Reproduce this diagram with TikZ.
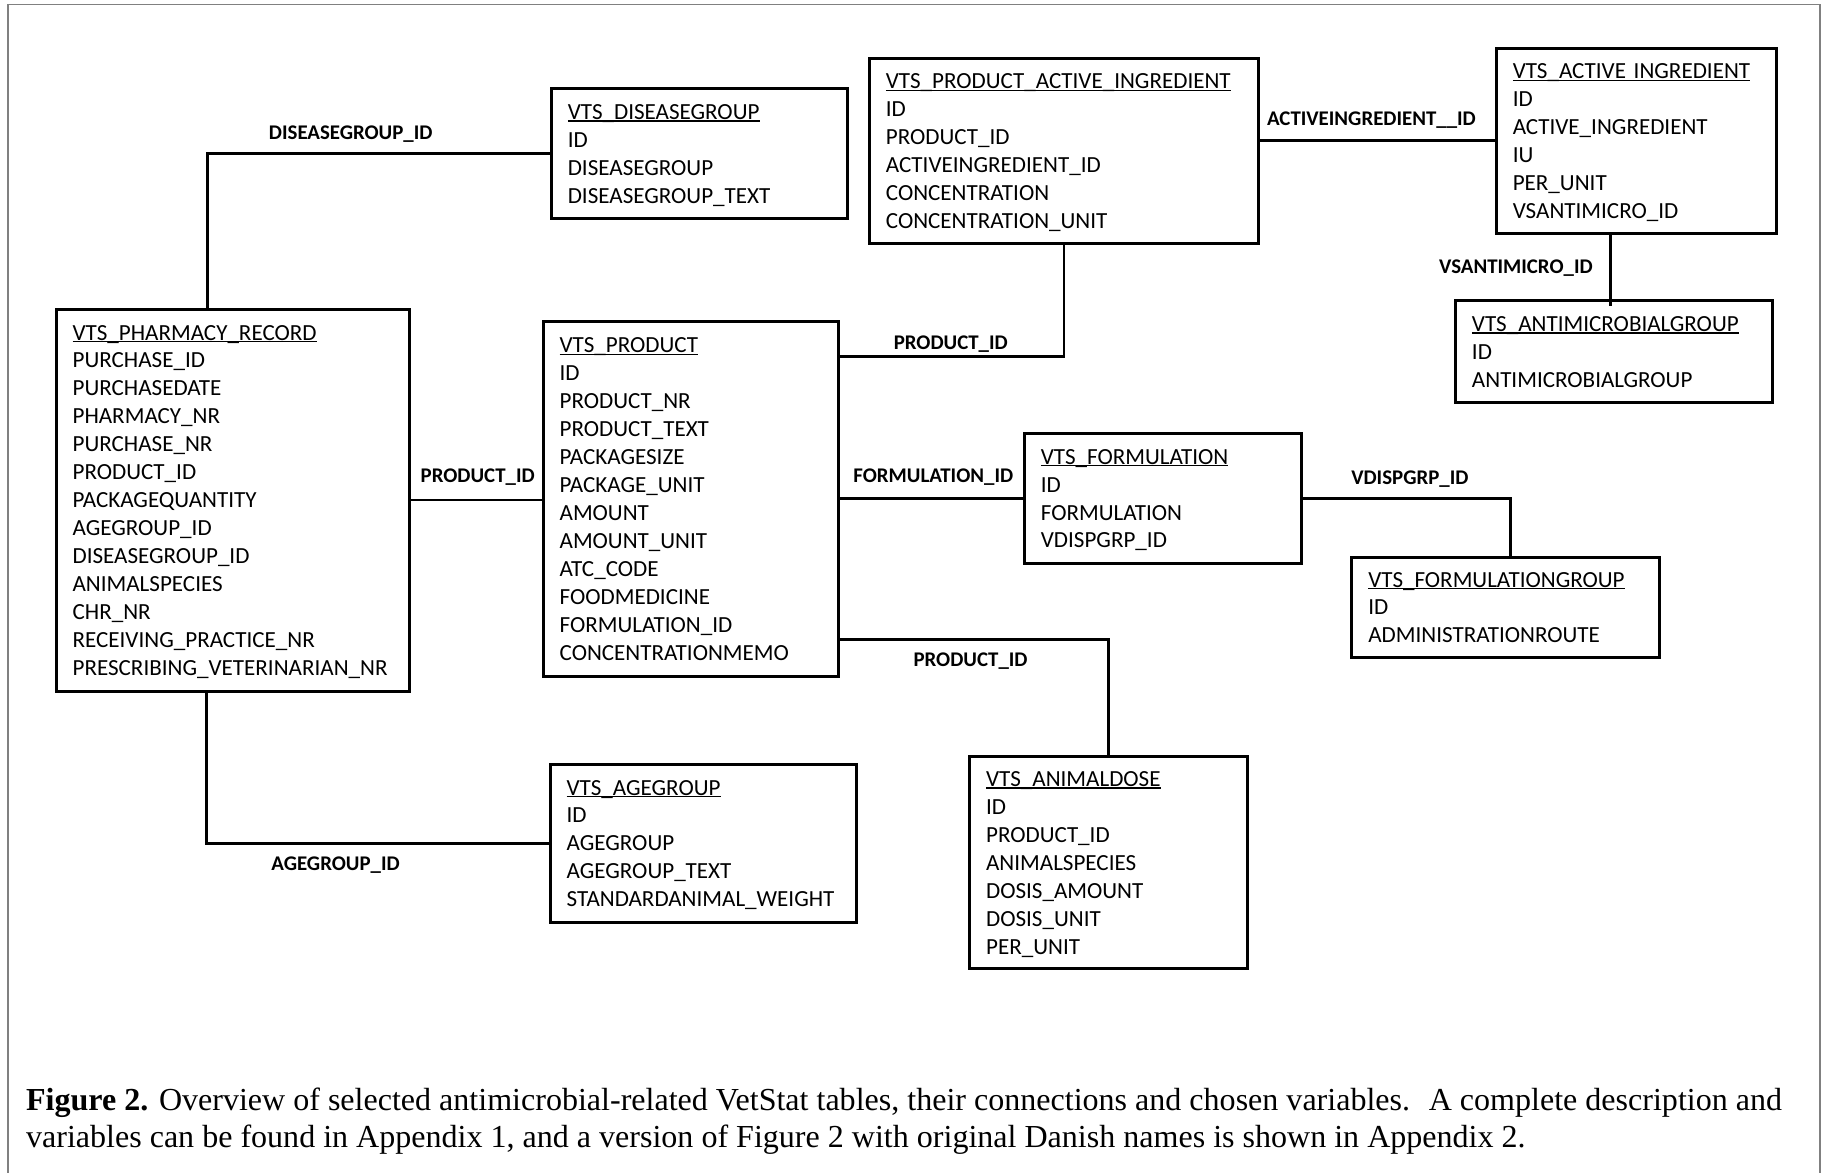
\documentclass[tikz,border=0pt]{standalone}
\usepackage{fontspec}
\setmainfont{Liberation Serif}
\newfontfamily\calfont{Carlito}
\newcommand\ttl[1]{\setbox0\hbox{#1}\rlap{\rule[-1pt]{\wd0}{0.5pt}}\box0}
\newcommand\tbltext[2]{\rule{0pt}{8pt}\ttl{#1}\\#2\rule[-1.5pt]{0pt}{0pt}}
\tikzset{
  tbl/.style={draw, line width=1.3pt, anchor=north west, align=left,
    inner xsep=7pt, inner ysep=0pt,
    font=\calfont\fontsize{9.9}{12}\selectfont},
  conn/.style={line width=1.1pt},
  lbl/.style={anchor=base, inner sep=0pt,
    font=\calfont\bfseries\fontsize{8.95}{10}\selectfont},
}
\begin{document}
\begin{tikzpicture}[x=0.5pt,y=-0.5pt]
\useasboundingbox (0,0) rectangle (1568,1006);
% outer frame
\draw[gray, line width=0.7pt] (7,1020) -- (7,4) -- (1562,4) -- (1562,1020);

% tables
\node[tbl, text width=113pt, minimum height=55.5pt] (dg) at (472,75)
  {\tbltext{VTS\_DISEASEGROUP}{ID\\DISEASEGROUP\\DISEASEGROUP\_TEXT}};
\node[tbl, text width=153pt, minimum height=79.5pt] (pai) at (745,49)
  {\tbltext{VTS\_PRODUCT\_ACTIVE\_INGREDIENT}{ID\\PRODUCT\_ID\\ACTIVEINGREDIENT\_ID\\CONCENTRATION\\CONCENTRATION\_UNIT}};
\node[tbl, text width=106pt, minimum height=79.5pt] (ai) at (1283,40)
  {\tbltext{VTS\_ACTIVE INGREDIENT}{ID\\ACTIVE\_INGREDIENT\\IU\\PER\_UNIT\\VSANTIMICRO\_ID}};
\node[tbl, text width=122pt, minimum height=43.5pt] (amg) at (1248,257)
  {\tbltext{VTS\_ANTIMICROBIALGROUP}{ID\\ANTIMICROBIALGROUP}};
\node[tbl, text width=137.5pt, minimum height=164pt] (pr) at (47,264)
  {\tbltext{VTS\_PHARMACY\_RECORD}{PURCHASE\_ID\\PURCHASEDATE\\PHARMACY\_NR\\PURCHASE\_NR\\PRODUCT\_ID\\PACKAGEQUANTITY\\AGEGROUP\_ID\\DISEASEGROUP\_ID\\ANIMALSPECIES\\CHR\_NR\\RECEIVING\_PRACTICE\_NR\\PRESCRIBING\_VETERINARIAN\_NR}};
\node[tbl, text width=112.5pt, minimum height=152pt] (prod) at (465,275)
  {\tbltext{VTS\_PRODUCT}{ID\\PRODUCT\_NR\\PRODUCT\_TEXT\\PACKAGESIZE\\PACKAGE\_UNIT\\AMOUNT\\AMOUNT\_UNIT\\ATC\_CODE\\FOODMEDICINE\\FORMULATION\_ID\\CONCENTRATIONMEMO}};
\node[tbl, text width=105pt, minimum height=55.5pt] (form) at (878,371)
  {\tbltext{VTS\_FORMULATION}{ID\\FORMULATION\\VDISPGRP\_ID}};
\node[tbl, text width=118pt, minimum height=43pt] (fg) at (1159,477)
  {\tbltext{VTS\_FORMULATIONGROUP}{ID\\ADMINISTRATIONROUTE}};
\node[tbl, text width=117.5pt, minimum height=67.5pt] (ag) at (471,655)
  {\tbltext{VTS\_AGEGROUP}{ID\\AGEGROUP\\AGEGROUP\_TEXT\\STANDARDANIMAL\_WEIGHT}};
\node[tbl, text width=105pt, minimum height=91pt] (ad) at (831,648)
  {\tbltext{VTS\_ANIMALDOSE}{ID\\PRODUCT\_ID\\ANIMALSPECIES\\DOSIS\_AMOUNT\\DOSIS\_UNIT\\PER\_UNIT}};

% connectors
\draw[conn] ([xshift=-10.75pt]pr.north) |- (dg.west);
\draw[conn] ([xshift=-11.25pt]pr.south) |- (ag.west);
\draw[conn] (pr.east) -- (pr.east -| prod.west);
\draw[conn] ([yshift=-15.5pt]prod.north east) -| (pai.south);
\draw[conn] (pai.east |- ai.west) -- (ai.west);
\draw[conn] ([xshift=-1.5pt]amg.north |- ai.south) -- ([xshift=-1.5pt,yshift=-3pt]amg.north);
\draw[conn] (prod.east |- form.west) -- (form.west);
\draw[conn] (form.east) -| ([xshift=2pt]fg.north);
\draw[conn] ([yshift=16.5pt]prod.south east) -| (ad.north);

% connector labels
\node[lbl] (l1) at (301,120) {DISEASEGROUP\_ID};
\node[lbl] (l2) at (410,414) {PRODUCT\_ID};
\node[lbl] (l3) at (816,300) {PRODUCT\_ID};
\node[lbl] (l4) at (1177,108) {ACTIVEINGREDIENT\_\_ID};
\node[lbl] (l5) at (1301,235) {VSANTIMICRO\_ID};
\node[lbl] (l6) at (801,414) {FORMULATION\_ID};
\node[lbl] (l7) at (1210,416) {VDISPGRP\_ID};
\node[lbl] (l8) at (833,572) {PRODUCT\_ID};
\node[lbl] (l9) at (288,747) {AGEGROUP\_ID};

% caption (anchor base = baseline of the last line)
\node[anchor=base west, inner sep=0pt, align=left,
  font=\fontsize{13.75}{16}\selectfont] (cap) at (22,985)
  {\textbf{Figure 2.} Overview of selected antimicrobial-related VetStat tables, their connections and chosen variables.~ A complete description and\\
   variables can be found in Appendix 1, and a version of Figure 2 with original Danish names is shown in Appendix 2.};
\end{tikzpicture}
\end{document}
